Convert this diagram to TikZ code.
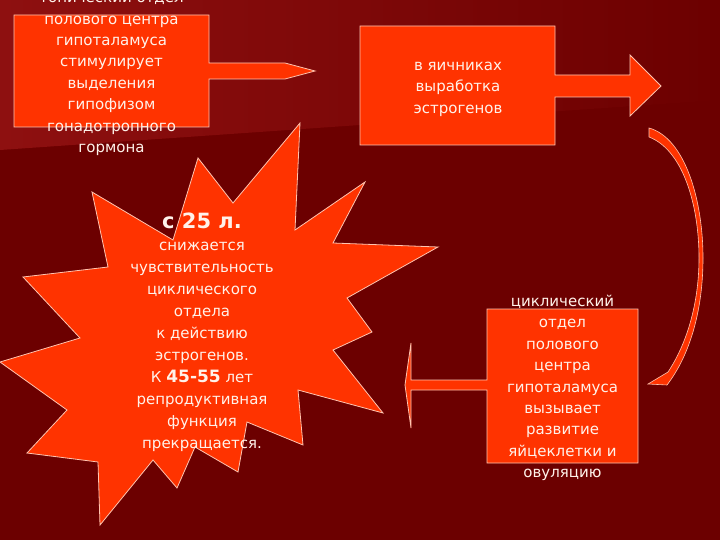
\documentclass[tikz,border=0pt]{standalone}
\usepackage{fontspec}
\setmainfont{DejaVu Sans}
\definecolor{bg}{HTML}{6C0000}
\definecolor{band}{HTML}{8E1010}
\definecolor{shape}{HTML}{FF3300}
\definecolor{edge}{HTML}{FFC4B0}
\definecolor{txt}{HTML}{FFF2EA}
\tikzset{
  shapestyle/.style={fill=shape,draw=edge,line width=0.8pt,line join=miter},
  lbl/.style={text=txt,align=center,inner sep=0pt,font=\fontsize{15}{21.4}\selectfont},
}
\begin{document}
\begin{tikzpicture}[x=1pt,y=-1pt]
\useasboundingbox (0,0) rectangle (720,540);
\clip (0,0) rectangle (720,540);
\fill[bg] (0,0) rectangle (720,540);
\shade[left color=band,right color=bg] (0,0) -- (720,0) -- (720,100) -- (0,150) -- cycle;

% box 1 with arrow
\path[shapestyle] (14,15) -- (209,15) -- (209,63) -- (285,63) -- (315,71) -- (285,79) -- (209,79) -- (209,127) -- (14,127) -- cycle;
% box 2 with arrow
\path[shapestyle] (360,26) -- (555,26) -- (555,75) -- (630,75) -- (630,55) -- (661,86) -- (630,116) -- (630,97) -- (555,97) -- (555,145) -- (360,145) -- cycle;
% curved arrow
\path[shapestyle,line width=0.6pt] (649,128) .. controls (685,138) and (703,200) .. (703,258)
  .. controls (703,310) and (690,355) .. (667,385) -- (648,384) -- (668,372)
  .. controls (686,345) and (699,305) .. (699,258)
  .. controls (699,205) and (683,150) .. (649,137) -- cycle;
% box 3 with left arrow
\path[shapestyle] (487,309) -- (638,309) -- (638,463) -- (487,463) -- (487,390) -- (411,390) -- (411,428) -- (405,385) -- (411,343) -- (411,380) -- (487,380) -- cycle;
% star
\path[shapestyle] (92,192) -- (173,240) -- (198,158) -- (233,203) -- (300,123) -- (295,230)
  -- (365,182) -- (333,243) -- (438,247) -- (347,298) -- (372,332) -- (333,350)
  -- (383,413) -- (298,390) -- (303,445) -- (247,422) -- (238,472) -- (195,447)
  -- (177,488) -- (153,460) -- (100,525) -- (98,462) -- (27,453) -- (67,410)
  -- (0,362) -- (80,338) -- (23,277) -- (108,267) -- cycle;

% texts
\node[lbl] (t1) at (111.5,73.5) {тонический отдел\\полового центра\\гипоталамуса\\стимулирует\\выделения\\гипофизом\\гонадотропного\\гормона};
\node[lbl] (t2) at (458,89) {в яичниках\\выработка\\эстрогенов};
\node[lbl] (t3) at (562.5,388) {циклический\\отдел\\полового\\центра\\гипоталамуса\\вызывает\\развитие\\яйцеклетки и\\овуляцию};
\node[lbl,font=\fontsize{15}{22}\selectfont] (t4) at (202,332.5) {{\fontsize{21}{22}\selectfont\bfseries с 25 л.}\\снижается\\чувствительность\\циклического\\отдела\\к действию\\эстрогенов.\\К {\fontsize{17}{22}\selectfont\bfseries 45-55} лет\\репродуктивная\\функция\\прекращается.};
\end{tikzpicture}
\end{document}
